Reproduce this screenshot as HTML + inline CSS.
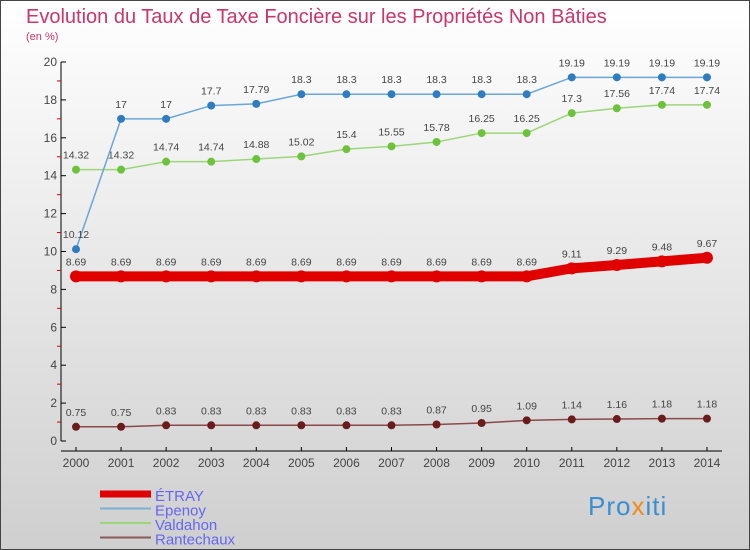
<!DOCTYPE html>
<html><head><meta charset="utf-8"><style>
body{margin:0}
#c{width:750px;height:550px;position:relative;overflow:hidden;font-family:"Liberation Sans",sans-serif;background:linear-gradient(#ffffff,#cfcfcf);box-sizing:border-box;border:1px solid #444}
</style></head><body>
<div id="c">
<svg id="s" width="750" height="550" style="position:absolute;left:-1px;top:-1px">
<text x="26" y="23" font-size="20" font-weight="300" fill="#c8366a">Evolution du Taux de Taxe Foncière sur les Propriétés Non Bâties</text>
<text x="26" y="40" font-size="11" fill="#c8366a">(en %)</text>
<g id="axes"></g><g id="series"></g>
<text x="588" y="515" font-size="26" fill="#3a8fd0" letter-spacing="1">Pro<tspan fill="#f08a1c">x</tspan>iti</text>
</svg>
</div>
<script>
const years=[2000,2001,2002,2003,2004,2005,2006,2007,2008,2009,2010,2011,2012,2013,2014];
const etray=[8.69,8.69,8.69,8.69,8.69,8.69,8.69,8.69,8.69,8.69,8.69,9.11,9.29,9.48,9.67];
const epenoy=[10.12,17,17,17.7,17.79,18.3,18.3,18.3,18.3,18.3,18.3,19.19,19.19,19.19,19.19];
const valdahon=[14.32,14.32,14.74,14.74,14.88,15.02,15.4,15.55,15.78,16.25,16.25,17.3,17.56,17.74,17.74];
const rantechaux=[0.75,0.75,0.83,0.83,0.83,0.83,0.83,0.83,0.87,0.95,1.09,1.14,1.16,1.18,1.18];
const yTicks=[0,2,4,6,8,10,12,14,16,18,20];
const NS="http://www.w3.org/2000/svg";
const X=i=>76+i*45.07, Y=v=>441-v*18.95;
function mk(p,t,a){const e=document.createElementNS(NS,t);for(const k in a)e.setAttribute(k,a[k]);p.appendChild(e);return e;}
const ax=document.getElementById('axes');
let yl=mk(ax,'line',{x1:61,y1:Y(20),x2:61,y2:Y(0),stroke:'#000'});


let xl=mk(ax,'line',{x1:61,y1:451,x2:722,y2:451,stroke:'#000'});


yTicks.forEach(v=>{mk(ax,'line',{x1:61,y1:Y(v),x2:66,y2:Y(v),stroke:'#000'});
 mk(ax,'line',{x1:57,y1:Y(v+1),x2:61,y2:Y(v+1),stroke:v<20?'#d00':'none'});
 const t=mk(ax,'text',{x:57,y:Y(v)+4,'font-size':12,'text-anchor':'end',fill:'#444'});t.textContent=v;
 
 });
years.forEach((y,i)=>{mk(ax,'line',{x1:X(i),y1:447,x2:X(i),y2:451,stroke:'#000'});
 const t=mk(ax,'text',{x:X(i),y:467,'font-size':12,'text-anchor':'middle',fill:'#444'});t.textContent=y;
 
 });
const sg=document.getElementById('series');
function series(d,col,w,r,dot,name){
 const pl=mk(sg,'polyline',{points:d.map((v,i)=>X(i)+','+Y(v)).join(' '),fill:'none',stroke:col,'stroke-width':w});
 
 
 d.forEach((v,i)=>{const c=mk(sg,'circle',{cx:X(i),cy:Y(v),r:r,fill:dot});
  
  
  const t=mk(sg,'text',{x:X(i),y:Y(v)-11,'font-size':10.5,'text-anchor':'middle',fill:'#444','font-weight':300});t.textContent=v;
  
  });
}
series(rantechaux,'#8b4a4a',1.5,4,'#6a1c1c','rantechaux');
series(valdahon,'#9cd67a',1.5,4,'#6cc23a','valdahon');
series(epenoy,'#6aa6d6',1.5,4,'#2f7dbf','epenoy');
series(etray,'#e00000',10,6,'#e00000','etray');
const leg=[['ÉTRAY','#e00000',7],['Epenoy','#7ab0d6',2],['Valdahon','#9cd67a',2],['Rantechaux','#8b5a5a',2]];
leg.forEach((l,i)=>{const y=494+i*14.5;
 const ln=mk(sg,'line',{x1:100,y1:y,x2:151,y2:y,stroke:l[1],'stroke-width':l[2]});
 
 
 const t=mk(sg,'text',{x:155,y:y+7,'font-size':15,fill:'#6666ee'});t.textContent=l[0];
 
 });
</script>
</body></html>
